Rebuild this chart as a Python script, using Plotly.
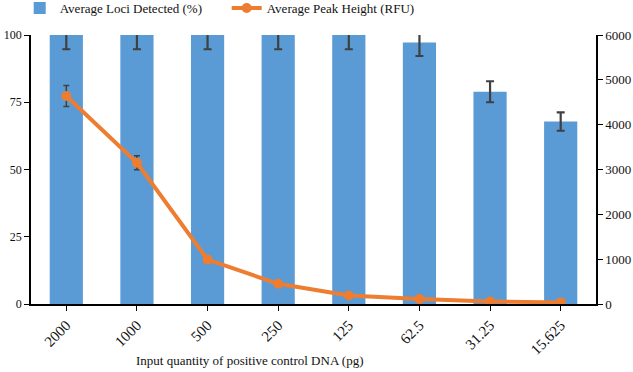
import plotly.graph_objects as go

categories = ["2000", "1000", "500", "250", "125", "62.5", "31.25", "15.625"]
loci_detected = [100, 100, 100, 100, 100, 97.2, 78.9, 67.8]
loci_err = [5.3, 5.3, 5.3, 5.3, 5.3, 5.0, 3.9, 3.4]
peak_height = [4640, 3150, 990, 450, 190, 112, 58, 36]
peak_err = [235, 155, 0, 0, 0, 0, 0, 0]
x_title = "Input quantity of positive control DNA (pg)"

font_family = "Liberation Serif"
blue = "#5B9BD5"
orange = "#ED7D31"

fig = go.Figure()
fig.add_trace(go.Bar(
    x=categories, y=loci_detected, name="Average Loci Detected (%)",
    marker=dict(color=blue, line=dict(width=0)),
    error_y=dict(type="data", array=loci_err, color="#404040", thickness=2.2, width=4),
    yaxis="y",
))
fig.add_trace(go.Scatter(
    x=categories, y=peak_height, name="Average Peak Height (RFU)",
    mode="lines+markers",
    line=dict(color=orange, width=4),
    marker=dict(color=orange, size=10),
    error_y=dict(type="data", array=peak_err, color="#404040", thickness=1.5, width=3),
    yaxis="y2",
))

fig.add_annotation(text=x_title, xref="paper", yref="paper",
                   x=0.3876, y=-0.21, xanchor="center", yanchor="middle",
                   showarrow=False, font=dict(size=13, family=font_family, color="#111"))

fig.update_layout(
    width=633, height=372,
    margin=dict(l=31, r=37, t=35, b=68, autoexpand=False),
    paper_bgcolor="white", plot_bgcolor="white",
    font=dict(family=font_family, size=13, color="#111"),
    bargap=0.53,
    showlegend=True,
    legend=dict(orientation="h", x=-0.02, y=1.10, xanchor="left", yanchor="middle",
                font=dict(size=13, family=font_family, color="#111"),
                itemwidth=30, tracegroupgap=0, bgcolor="rgba(0,0,0,0)",
                entrywidth=162, entrywidthmode="pixels"),
    xaxis=dict(type="category", showline=True, linecolor="black", linewidth=1.5,
               ticks="outside", ticklen=5, tickcolor="black", tickangle=-45,
               showgrid=False, tickfont=dict(size=15), automargin=False),
    yaxis=dict(range=[0, 100], tickvals=[0, 25, 50, 75, 100], showline=True,
               linecolor="black", linewidth=1.5, ticks="outside", ticklen=5,
               tickcolor="black", showgrid=False, zeroline=False,
               tickfont=dict(size=12), automargin=False),
    yaxis2=dict(range=[0, 6000], tickvals=[0, 1000, 2000, 3000, 4000, 5000, 6000],
                overlaying="y", side="right", showline=True, linecolor="black",
                linewidth=1.5, ticks="outside", ticklen=5, tickcolor="black",
                showgrid=False, zeroline=False, tickfont=dict(size=13),
                automargin=False),
)

fig.write_html("out.html", config={"displayModeBar": False},
               post_script="document.body.style.margin='0px';document.body.style.overflow='hidden';")
